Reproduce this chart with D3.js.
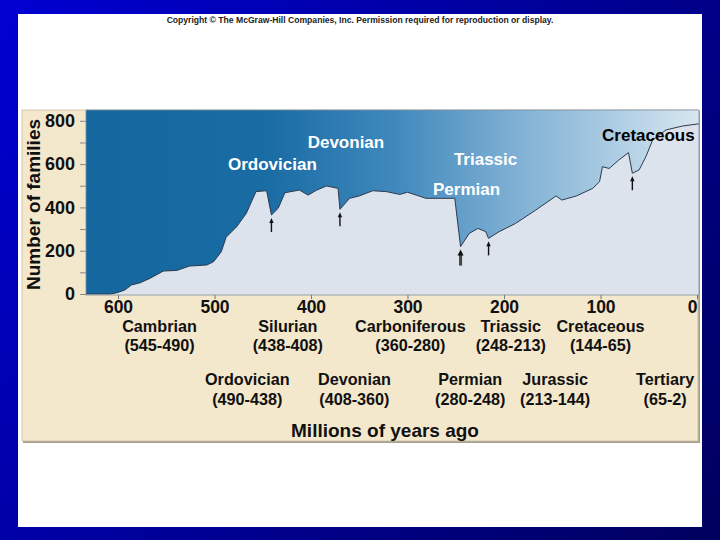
<!DOCTYPE html>
<html><head><meta charset="utf-8">
<script src="https://cdn.jsdelivr.net/npm/d3@7"></script>
<style>html,body{margin:0;padding:0;background:#000;}svg{display:block;}</style>
</head><body>
<script>
// ---- data ----
const myaAgo   = [633,608,601,593,586,577,567,553,539,526,508,501,493,488,477,467,457,446,441,434,427,412,403,394,384,372,370,360,350,336,322,308,300,291,281,251,250,245,236,227,219,216,205,188,167,146,140,125,108,101,98,91,81,71,67,60,53,46,32,15,0,-2];
const families = [0,0,6,18,42,52,72,106,109,129,134,149,195,262,311,373,473,477,365,396,468,480,457,480,499,488,391,442,453,477,473,460,470,457,442,442,404,219,280,303,288,257,288,326,388,453,434,453,488,519,588,580,619,653,558,573,634,711,758,776,785,786];
const xTicks = [600,500,400,300,200,100,0];
const yTicksMajor = [0,200,400,600,800];
const yTicksMinor = [100,300,500,700];
const extinctionNames = ["Ordovician","Devonian","Permian","Triassic","Cretaceous"];
const extinctionMya   = [441,370,245,216,67];
const periodNames  = ["Cambrian","Ordovician","Silurian","Devonian","Carboniferous","Permian","Triassic","Jurassic","Cretaceous","Tertiary"];
const periodRanges = ["(545-490)","(490-438)","(438-408)","(408-360)","(360-280)","(280-248)","(248-213)","(213-144)","(144-65)","(65-2)"];

// ---- layout (not data) ----
const W=720,H=540;
const plot={l:86,r:699,t:110,b:295};
const extLabelLevel=[573,675,457,596,707]; // label baselines in family units
const extLabelShift=[1,6,6,-3,16];         // px offsets of labels from their arrow
const extLabelColor=["#fff","#fff","#fff","#fff","#000"];
const periodLabelAt=[557,466,424,355,297,235,193,147,100,33]; // label centres in Myr

const F="'Liberation Sans', Arial, Helvetica, sans-serif";
const svg=d3.select("body").append("svg").attr("width",W).attr("height",H);
const defs=svg.append("defs");
const bg=defs.append("linearGradient").attr("id","bg").attr("gradientUnits","userSpaceOnUse")
  .attr("x1",0).attr("y1",0).attr("x2",720).attr("y2",540);
bg.append("stop").attr("offset",0).attr("stop-color","#0000d2");
bg.append("stop").attr("offset",1).attr("stop-color","#00005e");
const sky=defs.append("linearGradient").attr("id","sky").attr("gradientUnits","userSpaceOnUse")
  .attr("x1",plot.l).attr("y1",0).attr("x2",plot.r).attr("y2",0);
[[0,"#14669f"],[0.3,"#1a6ca5"],[0.5,"#3f88bc"],[0.7,"#7fb0d4"],[0.85,"#a9cbe2"],[1,"#d8e6f0"]]
  .forEach(s=>sky.append("stop").attr("offset",s[0]).attr("stop-color",s[1]));

svg.append("rect").attr("width",W).attr("height",H).attr("fill","url(#bg)");
svg.append("rect").attr("x",18).attr("y",14).attr("width",684).attr("height",513).attr("fill","#ffffff");
svg.append("text").attr("x",360).attr("y",22.5).attr("text-anchor","middle")
  .attr("font-family",F).attr("font-weight","bold").attr("font-size",8.6).attr("fill","#222")
  .text("Copyright © The McGraw-Hill Companies, Inc. Permission required for reproduction or display.");

// beige panel
svg.append("rect").attr("x",23).attr("y",111).attr("width",677).attr("height",332).attr("fill","#a8a08c");
svg.append("rect").attr("x",22).attr("y",110).attr("width",676).attr("height",331).attr("fill","#f4e8cc")
  .attr("stroke","#c8bea6").attr("stroke-width",0.8);

const x=d3.scaleLinear().domain([600,0]).range([118,697]);
const y=d3.scaleLinear().domain([0,850]).range([294,plot.t]);
const pts=myaAgo.map((t,i)=>[t,families[i]]);

// plot
const g=svg.append("g");
g.append("rect").attr("x",plot.l).attr("y",plot.t).attr("width",plot.r-plot.l).attr("height",plot.b-plot.t)
  .attr("fill","url(#sky)");
g.append("path").datum(pts).attr("fill","#dce3ec")
  .attr("d",d3.area().x(d=>x(d[0])).y0(plot.b).y1(d=>y(d[1])));
g.append("path").datum(pts).attr("fill","none").attr("stroke","#2b3a4e").attr("stroke-width",1)
  .attr("d",d3.line().x(d=>x(d[0])).y(d=>y(d[1])));
g.append("rect").attr("x",plot.l).attr("y",plot.t).attr("width",plot.r-plot.l).attr("height",plot.b-plot.t)
  .attr("fill","none").attr("stroke","#8090a0").attr("stroke-width",0.8);

// axes
const yAxis=d3.axisLeft(y).tickValues(yTicksMajor).tickSize(6).tickPadding(5).tickFormat(d3.format("d"));
const ya=svg.append("g").attr("transform",`translate(${plot.l},0)`).call(yAxis);
ya.select(".domain").remove();
ya.selectAll(".tick line").attr("stroke","#888");
ya.selectAll(".tick text").attr("font-family",F).attr("font-weight","bold").attr("font-size",18).attr("fill","#111");
const ym=svg.append("g").attr("transform",`translate(${plot.l},0)`).call(d3.axisLeft(y).tickValues(yTicksMinor).tickSize(6).tickFormat(""));
ym.select(".domain").remove();
ym.selectAll(".tick line").attr("stroke","#888");

const xAxis=d3.axisBottom(x).tickValues(xTicks).tickSize(4).tickPadding(2).tickFormat(d3.format("d"));
const xa=svg.append("g").attr("transform",`translate(0,${plot.b})`).call(xAxis);
xa.select(".domain").remove();
xa.selectAll(".tick line").attr("stroke","#777");
xa.selectAll(".tick text").attr("font-family",F).attr("font-weight","bold").attr("font-size",17.5).attr("fill","#111")
  .attr("dx",d=>d===0?-5:0);

svg.append("text").attr("transform",`translate(40,${(plot.t+plot.b)/2+2}) rotate(-90)`).attr("text-anchor","middle")
  .attr("font-family",F).attr("font-weight","bold").attr("font-size",19).attr("fill","#111").text("Number of families");

// extinction arrows & labels
const interp=t=>{for(let i=0;i<pts.length-1;i++){const a=pts[i],b=pts[i+1];if(t<=a[0]&&t>=b[0]){const f=(a[0]-t)/(a[0]-b[0]||1);return a[1]+f*(b[1]-a[1]);}}return 0;};
const dipVal=t=>{let m=Infinity;pts.forEach(p=>{if(Math.abs(p[0]-t)<=2)m=Math.min(m,p[1]);});return m===Infinity?interp(t):m;};
extinctionMya.forEach((t,i)=>{
  const ax=x(t), ay=y(dipVal(t))+3, big=extinctionNames[i]==="Permian";
  const len=big?16:14, hw=big?3:2.2, hl=big?6:5;
  svg.append("line").attr("x1",ax).attr("x2",ax).attr("y1",ay+hl-1).attr("y2",ay+len)
    .attr("stroke",big?"#444":"#111").attr("stroke-width",big?3:1.4);
  svg.append("path").attr("d",`M${ax},${ay}L${ax-hw},${ay+hl}L${ax+hw},${ay+hl}Z`).attr("fill","#111");
  svg.append("text").attr("x",x(t)+extLabelShift[i]).attr("y",y(extLabelLevel[i])).attr("text-anchor","middle")
    .attr("font-family",F).attr("font-weight","bold").attr("font-size",17).attr("fill",extLabelColor[i])
    .text(extinctionNames[i]);
});

// period labels (staggered two rows)
periodNames.forEach((n,i)=>{
  const row=i%2, cx=x(periodLabelAt[i]), by=row===0?331.5:385;
  svg.append("text").attr("x",cx).attr("y",by).attr("text-anchor","middle").attr("font-family",F)
    .attr("font-weight","bold").attr("font-size",16.2).attr("fill","#111").text(n);
  svg.append("text").attr("x",cx).attr("y",by+19.5).attr("text-anchor","middle").attr("font-family",F)
    .attr("font-weight","bold").attr("font-size",16.2).attr("fill","#111").text(periodRanges[i]);
});
svg.append("text").attr("x",385).attr("y",437).attr("text-anchor","middle").attr("font-family",F)
  .attr("font-weight","bold").attr("font-size",19).attr("fill","#111").text("Millions of years ago");
</script>
</body></html>
